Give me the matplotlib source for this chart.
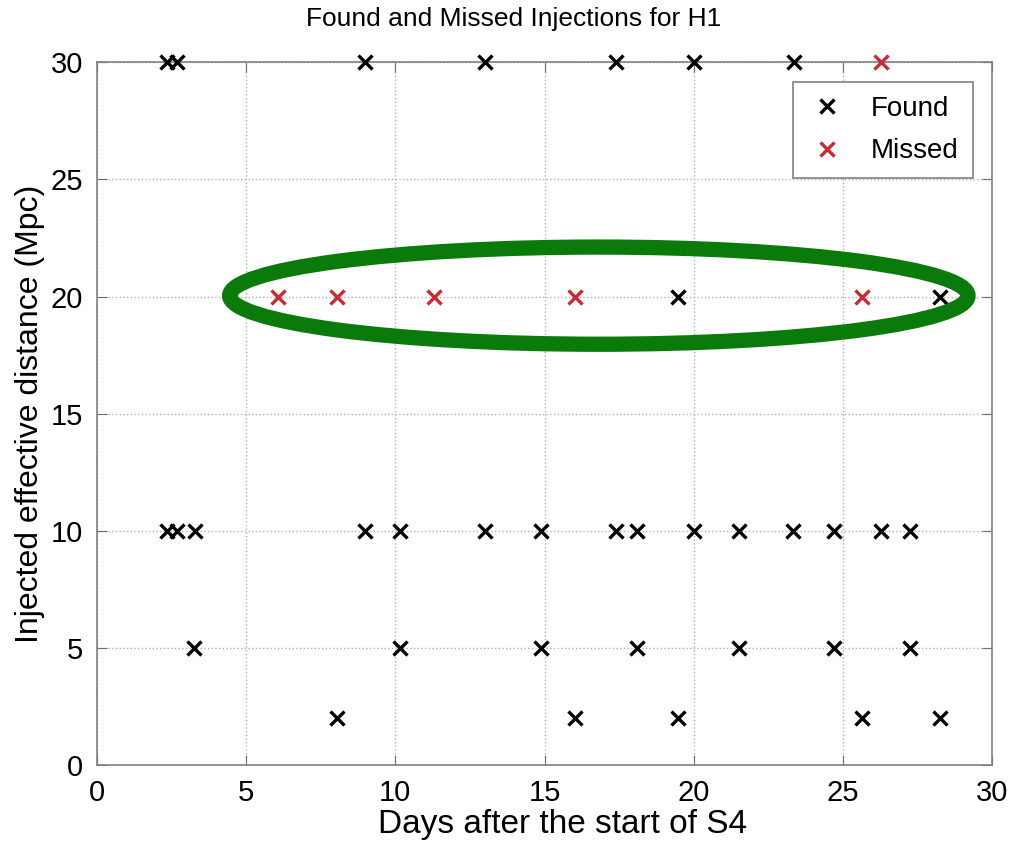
import matplotlib
matplotlib.use("Agg")
import matplotlib.pyplot as plt
from matplotlib.patches import Ellipse

plt.rcParams['font.family'] = ['Liberation Sans', 'DejaVu Sans']

# found injections (days, Mpc)
found_days = [2.33, 2.69, 8.99, 12.99, 17.40, 20.0, 23.35,
              19.49, 28.27,
              2.33, 2.67, 3.29, 8.99, 10.16, 13.01, 14.88, 17.40, 18.10,
              20.0, 21.51, 23.32, 24.69, 26.28, 27.26,
              3.26, 10.16, 14.88, 18.10, 21.51, 24.69, 27.26,
              8.04, 16.01, 19.49, 25.64, 28.27]
found_dist = [30, 30, 30, 30, 30, 30, 30,
              20, 20,
              10, 10, 10, 10, 10, 10, 10, 10, 10,
              10, 10, 10, 10, 10, 10,
              5, 5, 5, 5, 5, 5, 5,
              2, 2, 2, 2, 2]

# missed injections
missed_days = [26.28, 6.06, 8.04, 11.28, 16.01, 25.64]
missed_dist = [30, 20, 20, 20, 20, 20]

fig = plt.figure(figsize=(10.18, 8.49), dpi=100)
ax = fig.add_axes([0.0953, 0.099, 0.8792, 0.8275])

ax.plot(found_days, found_dist, 'x', color='black', ms=10, mew=2.4,
        label='Found', clip_on=False, zorder=5)
ax.plot(missed_days, missed_dist, 'x', color='#cc2936', ms=10, mew=2.4,
        label='Missed', clip_on=False, zorder=5)

ax.set_xlim(0, 30)
ax.set_ylim(0, 30)
ax.set_xticks(range(0, 31, 5))
ax.set_yticks(range(0, 31, 5))
ax.grid(True, linestyle=':', color='#b0b0b0', linewidth=1.0)
ax.tick_params(direction='in', length=7, labelsize=21, color='#707070',
               top=True, right=True, pad=10)
for s in ax.spines.values():
    s.set_color('#808080')
    s.set_linewidth(1.2)

ax.set_title('Found and Missed Injections for H1', fontsize=19, pad=26,
             x=0.465)
ax.set_xlabel('Days after the start of S4', fontsize=24, labelpad=6)
ax.xaxis.set_label_coords(0.52, -0.062)
ax.set_ylabel('Injected effective distance (Mpc)', fontsize=23, labelpad=4)

leg = ax.legend(loc='upper right', fontsize=20, fancybox=False,
                edgecolor='#808080', framealpha=1, borderaxespad=0.7,
                handletextpad=0.9, handlelength=1.4, borderpad=0.5,
                labelspacing=0.6)
leg.get_frame().set_linewidth(1.2)

# green highlight ring around the 20 Mpc row
ax.add_patch(Ellipse((16.82, 20.04), 24.75, 4.15, fill=False,
                     edgecolor='#0a7a0a', linewidth=11, zorder=6,
                     clip_on=False))

fig.savefig('out.png', dpi=100)
